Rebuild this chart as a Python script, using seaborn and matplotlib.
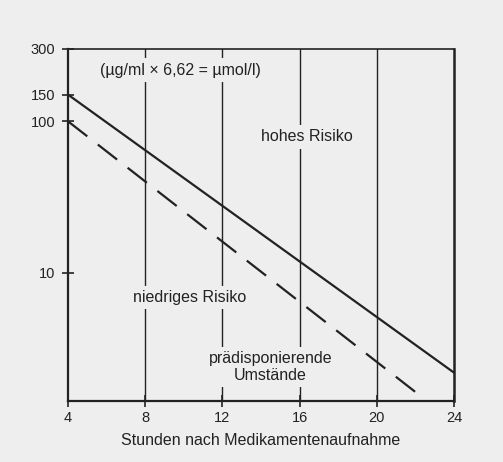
"""Paracetamol nomogram (Rumack-Matthew style) redrawn with seaborn."""

import matplotlib

matplotlib.use("Agg")

import matplotlib.pyplot as plt
import seaborn as sns
from matplotlib.ticker import FixedLocator, FixedFormatter, NullLocator

BG = "#eeeeee"
INK = "#222222"

# data
HOURS_TICKS = [4, 8, 12, 16, 20, 24]
GRID_HOURS = [8, 12, 16, 20]
CONC_TICKS = [10, 100, 150, 300]
CONC_LABELS = ["10", "100", "150", "300"]

high_hours = [4, 24]
high_conc = [150, 2.2]

low_hours = [4, 22]
low_conc = [100, 1.64]

Y_MIN, Y_MAX = 1.43, 300


def main() -> None:
    sns.set_theme(style="white")
    plt.rcParams["font.family"] = ["Liberation Sans", "DejaVu Sans"]
    plt.rcParams["figure.facecolor"] = BG
    plt.rcParams["axes.facecolor"] = BG

    fig = plt.figure(figsize=(5.03, 4.62), dpi=100)
    ax = fig.add_axes([0.1352, 0.132, 0.7674, 0.762])

    for h in GRID_HOURS:
        ax.axvline(h, color=INK, lw=1.0, zorder=1)

    sns.lineplot(x=high_hours, y=high_conc, ax=ax, color=INK, lw=1.6, zorder=3)
    sns.lineplot(x=low_hours, y=low_conc, ax=ax, color=INK, lw=1.6, zorder=3)
    ax.lines[-1].set_linestyle((0, (11, 6)))

    ax.set_yscale("log")
    ax.set_xlim(4, 24)
    ax.set_ylim(Y_MIN, Y_MAX)
    ax.xaxis.set_major_locator(FixedLocator(HOURS_TICKS))
    ax.yaxis.set_major_locator(FixedLocator(CONC_TICKS))
    ax.yaxis.set_major_formatter(FixedFormatter(CONC_LABELS))
    ax.yaxis.set_minor_locator(NullLocator())

    ax.tick_params(axis="x", bottom=True, direction="inout", length=8, width=1.2,
                   colors=INK, labelsize=10.5, pad=3)
    ax.tick_params(axis="y", left=True, direction="inout", length=8, width=1.2,
                   colors=INK, labelsize=10.5, pad=5)
    for side, w in {"left": 1.6, "right": 1.8, "bottom": 1.6, "top": 1.2}.items():
        ax.spines[side].set_visible(True)
        ax.spines[side].set_color(INK)
        ax.spines[side].set_linewidth(w)

    box = dict(facecolor=BG, edgecolor="none", pad=3)
    ax.text(0.29, 0.94, "(µg/ml × 6,62 = µmol/l)", transform=ax.transAxes,
            ha="center", va="center", fontsize=11.5, color=INK, bbox=box, zorder=4)
    ax.text(0.62, 0.75, "hohes Risiko", transform=ax.transAxes,
            ha="center", va="center", fontsize=11.5, color=INK, bbox=box, zorder=4)
    ax.text(0.316, 0.295, "niedriges Risiko", transform=ax.transAxes,
            ha="center", va="center", fontsize=11.5, color=INK, bbox=box, zorder=4)
    ax.text(0.525, 0.097, "prädisponierende\nUmstände", transform=ax.transAxes,
            ha="center", va="center", fontsize=11.5, color=INK, linespacing=1.2,
            bbox=box, zorder=4)

    ax.set_xlabel("Stunden nach Medikamentenaufnahme", fontsize=11.5,
                  color=INK, labelpad=6)
    ax.set_ylabel("")

    fig.savefig("out.png", dpi=100, facecolor=BG)
    plt.close(fig)


if __name__ == "__main__":
    main()
